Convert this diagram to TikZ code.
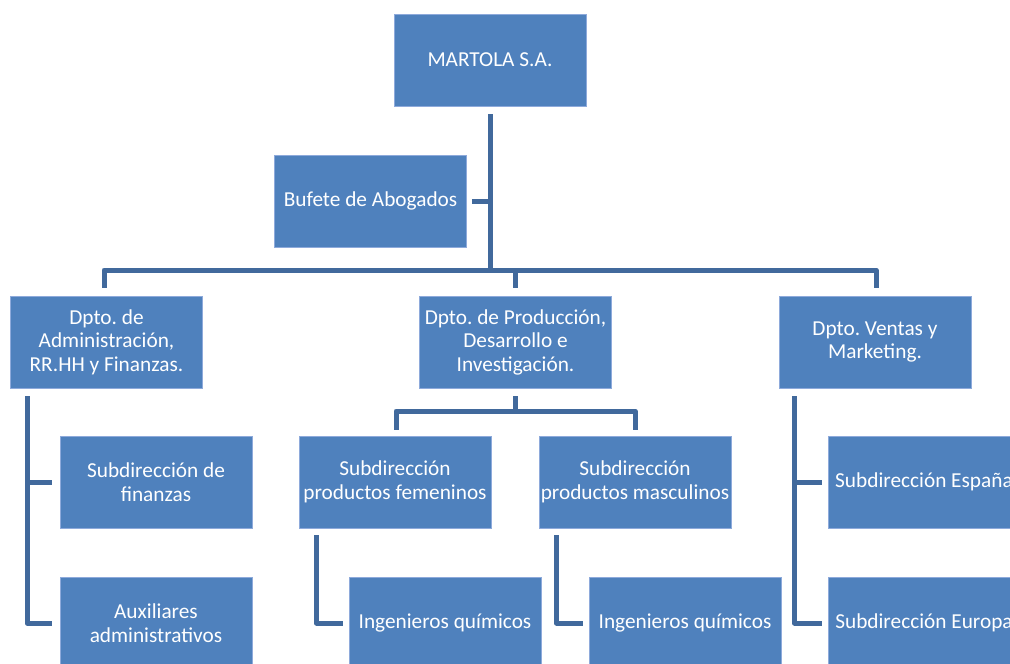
\documentclass[tikz,border=0pt]{standalone}
\usepackage{fontspec}
\setmainfont{Carlito}
\usetikzlibrary{calc}
\frenchspacing
\definecolor{boxfill}{HTML}{4F81BD}
\definecolor{boxline}{HTML}{8EAADB}
\definecolor{conn}{HTML}{41699C}
\tikzset{
  orgbox/.style={rectangle, fill=boxfill, draw=boxline, line width=0.8pt,
    minimum width=192pt, minimum height=92pt, inner sep=0pt,
    text=white, align=center, font=\fontsize{21.3}{23.5}\selectfont},
  link/.style={draw=conn, line width=5pt, line join=round}
}
\begin{document}
\begin{tikzpicture}[x=1pt,y=-1pt]
\useasboundingbox (0,0) rectangle (1010,664);
\clip (0,0) rectangle (1010,664);
\node[orgbox] (m) at (490,60) {MARTOLA S.A.};
\node[orgbox] (buf) at (370.5,201) {Bufete de Abogados};
\node[orgbox] (adm) at (106.5,342) {Dpto. de\\Administración,\\RR.HH y Finanzas.};
\node[orgbox] (prod) at (515.5,342) {Dpto. de Producción,\\Desarrollo e\\Investigación.};
\node[orgbox] (ven) at (875,342) {Dpto. Ventas y\\Marketing.};
\node[orgbox] (fin) at (156,482) {Subdirección de\\finanzas};
\node[orgbox] (aux) at (156,623) {Auxiliares\\administrativos};
\node[orgbox] (fem) at (395,482) {Subdirección\\productos femeninos};
\node[orgbox] (masc) at (635,482) {Subdirección\\productos masculinos};
\node[orgbox] (iq1) at (445,623) {Ingenieros químicos};
\node[orgbox] (iq2) at (685,623) {Ingenieros químicos};
\node[orgbox] (esp) at (924,482) {Subdirección España};
\node[orgbox] (eur) at (924,623) {Subdirección Europa};
% top level
\coordinate (t) at (490,270);
\draw[link] ($(m.south)+(0,8)$) -- (t);
\draw[link] ($(buf.east)+(5,0)$) -- (buf.east -| t);
\draw[link] ($(adm.north)+(-2.5,-8)$) |- (t) -| ($(ven.north)+(1,-8)$);
\draw[link] (prod.north |- t) -- ($(prod.north)+(0,-8)$);
% production
\coordinate (p) at (515.5,411);
\draw[link] ($(prod.south)+(0,8)$) -- (p);
\draw[link] ($(fem.north)+(1,-6)$) |- (p) -| ($(masc.north)+(0,-6)$);
% administration
\coordinate (a1) at ($(adm.south west)+(17,8)$);
\draw[link] (a1) |- ($(aux.west)+(-8,0)$);
\draw[link] (fin.west -| a1) -- ($(fin.west)+(-8,0)$);
% fem / masc
\coordinate (f1) at ($(fem.south west)+(18,7)$);
\draw[link] (f1) |- ($(iq1.west)+(-6,0)$);
\coordinate (f2) at ($(masc.south west)+(18,7)$);
\draw[link] (f2) |- ($(iq2.west)+(-6,0)$);
% ventas
\coordinate (v1) at ($(ven.south west)+(16,8)$);
\draw[link] (v1) |- ($(eur.west)+(-6,0)$);
\draw[link] (esp.west -| v1) -- ($(esp.west)+(-6,0)$);
\end{tikzpicture}
\end{document}
